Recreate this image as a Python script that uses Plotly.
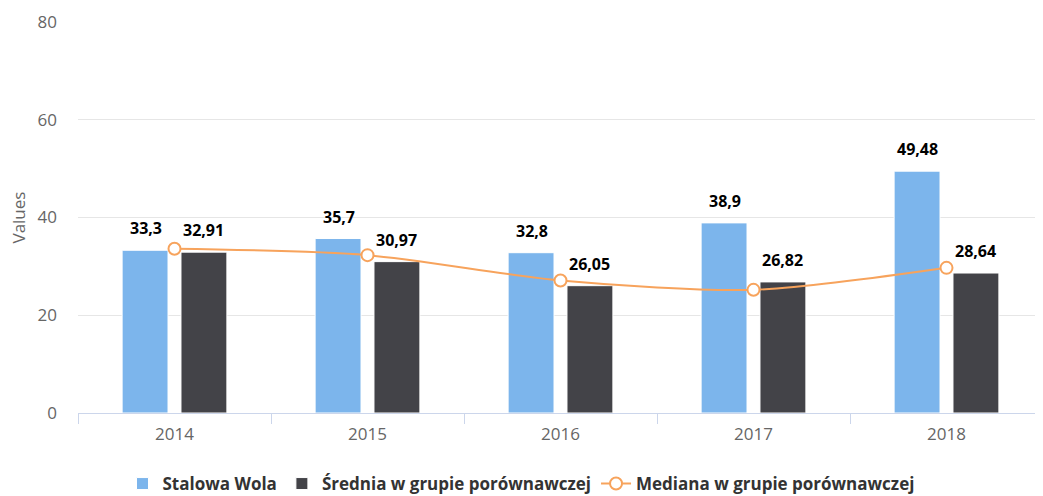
import plotly.graph_objects as go

years = ["2014", "2015", "2016", "2017", "2018"]
stalowa_wola = [33.3, 35.7, 32.8, 38.9, 49.48]
srednia = [32.91, 30.97, 26.05, 26.82, 28.64]
mediana = [33.6, 32.3, 27.1, 25.2, 29.7]

names = ["Stalowa Wola", "Średnia w grupie porównawczej", "Mediana w grupie porównawczej"]
y_ticks = [0, 20, 40, 60, 80]
y_title = "Values"

BLUE = "#7cb5ec"
DARK = "#434348"
ORANGE = "#f7a35c"
FONT = "Open Sans"

W, H = 1043, 496
L, R, T, B = 70, 8, 14, 91
PW = W - L - R

xpos = list(range(len(years)))
boundaries = [i - 0.5 for i in range(len(years) + 1)]

fig = go.Figure()
fig.add_trace(go.Bar(x=xpos, y=stalowa_wola, name=names[0], marker=dict(color=BLUE, line=dict(color="white", width=1))))
fig.add_trace(go.Bar(x=xpos, y=srednia, name=names[1], marker=dict(color=DARK, line=dict(color="white", width=1))))
fig.add_trace(go.Scatter(x=xpos, y=mediana, name=names[2], mode="lines+markers",
                         line=dict(color=ORANGE, width=2, shape="spline", smoothing=0.8),
                         marker=dict(symbol="circle", size=12, color="white", line=dict(color=ORANGE, width=2))))

def fmt(v):
    return f"{v:g}".replace(".", ",")

annotations = []
for x, v in zip(xpos, stalowa_wola):
    annotations.append(dict(x=x, y=v, text=f"<b>{fmt(v)}</b>", showarrow=False, xshift=-29, yshift=22,
                            font=dict(family=FONT, size=16, color="black")))
for x, v in zip(xpos, srednia):
    annotations.append(dict(x=x, y=v, text=f"<b>{fmt(v)}</b>", showarrow=False, xshift=29, yshift=22,
                            font=dict(family=FONT, size=16, color="black")))
annotations.append(dict(xref="paper", yref="paper", x=(10 - L) / PW, y=0.5, text=y_title, textangle=-90,
                        showarrow=False, xanchor="center", yanchor="middle",
                        font=dict(family=FONT, size=17, color="#666666")))

fig.update_layout(
    width=W, height=H,
    margin=dict(l=L, r=R, t=T, b=B),
    paper_bgcolor="white", plot_bgcolor="white",
    barmode="group", bargap=0.39, bargroupgap=0.22,
    font=dict(family=FONT, color="#666666"),
    annotations=annotations,
    legend=dict(orientation="h", x=513 / W, xanchor="center", xref="container", y=20 / H, yanchor="middle",
                yref="container", font=dict(family=FONT, size=17, color="#333333", weight="bold"),
                traceorder="normal", itemwidth=30),
    xaxis=dict(type="linear", range=[-0.5, len(years) - 0.5], tickmode="array", tickvals=xpos, ticktext=years,
               ticks="", showline=True, linecolor="#ccd6eb", linewidth=1, showgrid=False, zeroline=False,
               automargin=False, ticklabelstandoff=6,
               tickfont=dict(family=FONT, size=17, color="#666666"),
               minor=dict(tickmode="array", tickvals=boundaries, ticks="outside", ticklen=10, tickcolor="#ccd6eb",
                          showgrid=False)),
    yaxis=dict(range=[0, 80], tickvals=y_ticks, showgrid=True, gridcolor="#e6e6e6", gridwidth=1,
               zeroline=False, showline=False, ticks="", automargin=False, ticklabelstandoff=20,
               tickfont=dict(family=FONT, size=17, color="#666666")),
)

fig.write_html("out.html")
